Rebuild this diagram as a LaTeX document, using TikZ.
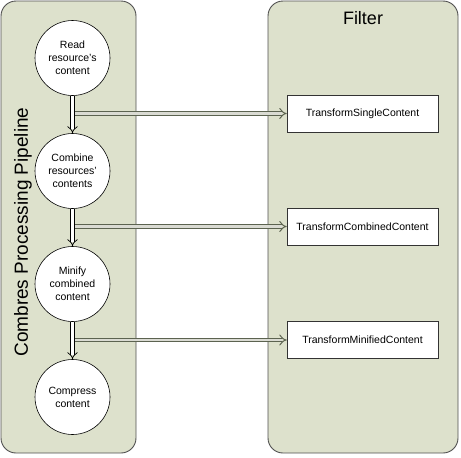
\documentclass[tikz,border=0pt]{standalone}
\usepackage{fontspec}
\setmainfont{Liberation Sans}
\usetikzlibrary{arrows.meta}
\definecolor{panelfill}{HTML}{DDE1CC}
\definecolor{paneldraw}{HTML}{505050}
\definecolor{callgray}{HTML}{5C6350}
\tikzset{
  panel/.style = {fill=panelfill, draw=paneldraw, line width=0.9pt, rounded corners=15pt},
  stage/.style = {circle, draw=black, fill=white, line width=0.6pt, minimum size=75pt, inner sep=0pt,
                  align=center, font=\fontsize{10.5}{13}\selectfont},
  hook/.style  = {rectangle, draw=black!80, fill=white, line width=0.6pt, minimum width=151pt,
                  minimum height=37pt, inner sep=0pt, font=\fontsize{10.5}{13}\selectfont},
  flow/.style  = {draw=black, double=white, line width=0.7pt, double distance=3pt, -{Implies[scale=1.25]}},
  call/.style  = {draw=callgray, double=panelfill!70!gray!60, line width=1pt, double distance=2.8pt, -{Implies[scale=1.2]}},
}
\begin{document}
\begin{tikzpicture}[x=1pt, y=-1pt]
    \useasboundingbox (0,0) rectangle (461,458);
    % the two lanes
    \filldraw[panel] (1,1) rectangle (136,453);
    \filldraw[panel] (268,1) rectangle (458,453);
    \node[rotate=90, font=\fontsize{19}{22}\selectfont] (pipetitle) at (23,232) {Combres Processing Pipeline};
    \node[font=\fontsize{18}{21}\selectfont] (filtertitle) at (363,18) {Filter};
    % pipeline steps
    \node[stage] (read) at (72.5,58) {Read\\resource’s\\content};
    \node[stage] (combine) at (72.5,171) {Combine\\resources’\\contents};
    \node[stage] (minify) at (72.5,284) {Minify\\combined\\content};
    \node[stage] (compress) at (72.5,397) {Compress\\content};
    % filter hooks
    \node[hook] (single) at (362.5,113.5) {TransformSingleContent};
    \node[hook] (combined) at (362.5,226.5) {TransformCombinedContent};
    \node[hook] (minified) at (362.5,340) {TransformMinifiedContent};
    % branch points on the shafts
    \coordinate (tap1) at ([xshift=2.5pt]read.south |- single.west);
    \coordinate (tap2) at ([xshift=2.5pt]combine.south |- combined.west);
    \coordinate (tap3) at ([xshift=2.5pt]minify.south |- minified.west);
    \draw[flow] (read) -- (combine);
    \draw[flow] (combine) -- (minify);
    \draw[flow] (minify) -- (compress);
    \draw[call] (tap1) -- (single);
    \draw[call] (tap2) -- (combined);
    \draw[call] (tap3) -- (minified);
\end{tikzpicture}
\end{document}
